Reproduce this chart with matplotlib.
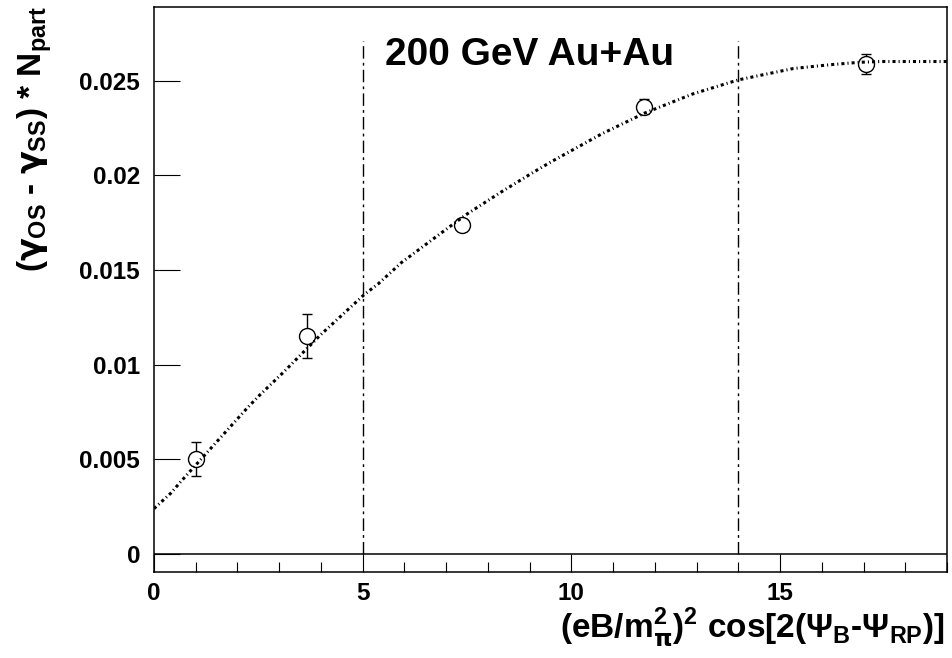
import matplotlib
matplotlib.use("Agg")
import matplotlib.pyplot as plt
from matplotlib.ticker import MultipleLocator, FixedLocator

# Measured correlator difference scaled by Npart vs. magnetic-field term
x_pts = [1.01, 3.66, 7.39, 11.75, 17.07]
y_pts = [0.00502, 0.01152, 0.01739, 0.02364, 0.02588]
y_err = [0.00088, 0.00115, 0.00030, 0.00040, 0.00052]

# Fit curve, sampled
fit_x = [0.0, 0.40, 0.66, 1.72, 2.24, 2.52, 3.10, 4.00, 5.05, 5.37, 5.93,
         6.85, 7.47, 8.30, 9.09, 9.53, 10.73, 11.75, 12.90, 14.00, 15.32,
         16.20, 16.91, 17.40, 19.0]
fit_y = [0.00240, 0.00321, 0.00387, 0.00646, 0.00773, 0.00837, 0.00960,
         0.01160, 0.01373, 0.01427, 0.01540, 0.01691, 0.01792, 0.01910,
         0.02017, 0.02074, 0.02220, 0.02329, 0.02430, 0.02505, 0.02565,
         0.02585, 0.02598, 0.02602, 0.02602]

# Centrality region boundaries
vline_x = [5.0, 14.0]
vline_top = 0.0271

y_ticks = [0.0, 0.005, 0.010, 0.015, 0.020, 0.025]
y_ticklabels = ["0", "0.005", "0.01", "0.015", "0.02", "0.025"]
x_ticks = [0, 5, 10, 15]
x_ticklabels = ["0", "5", "10", "15"]

plt.rcParams["font.family"] = ["Liberation Sans", "DejaVu Sans"]
plt.rcParams["font.weight"] = "bold"
plt.rcParams["mathtext.fontset"] = "custom"
plt.rcParams["mathtext.rm"] = "Liberation Sans:bold"
plt.rcParams["mathtext.it"] = "DejaVu Sans"
plt.rcParams["mathtext.bf"] = "Liberation Sans:bold"
plt.rcParams["mathtext.sf"] = "Liberation Sans:bold"

W, H = 953, 658
fig = plt.figure(figsize=(W / 100, H / 100), dpi=100)
ax = fig.add_axes([154 / W, (H - 572) / H, (947 - 154) / W, (572 - 7) / H])

ax.set_xlim(0, 19)
ax.set_ylim(-0.00095, 0.0289)

for s in ax.spines.values():
    s.set_linewidth(1.1)

ax.axhline(0, color="black", lw=1.1, zorder=1)
ax.vlines(vline_x, 0, vline_top, colors="black", lw=1.0,
          linestyles=[(0, (9, 3, 2, 3))], zorder=1)

ax.errorbar(x_pts, y_pts, yerr=y_err, fmt="none", ecolor="black",
            elinewidth=1.0, capsize=3.5, capthick=1.0, zorder=2)
ax.plot(x_pts, y_pts, "o", ms=11.5, mfc="white", mec="black", mew=1.0,
        zorder=3)
ax.plot(fit_x, fit_y, color="black", lw=2.2,
        dashes=(1.0, 1.0, 0.35, 1.0), zorder=4)

ax.yaxis.set_major_locator(FixedLocator(y_ticks))
ax.set_yticklabels(y_ticklabels)
ax.xaxis.set_major_locator(FixedLocator(x_ticks))
ax.set_xticklabels(x_ticklabels)
ax.xaxis.set_minor_locator(MultipleLocator(1))

ax.tick_params(axis="y", which="major", direction="in", length=18.5,
               width=0.8, pad=10, labelsize=17.5, left=True, right=False)
ax.tick_params(axis="y", which="minor", left=False, right=False)
ax.tick_params(axis="x", which="major", direction="in", length=13,
               width=0.8, pad=7, labelsize=17.5, bottom=True, top=False)
ax.tick_params(axis="x", which="minor", direction="in", length=7,
               width=0.8, bottom=True, top=False)
for lab in ax.get_xticklabels() + ax.get_yticklabels():
    lab.set_fontweight("bold")

fig.text(385 / W, 1 - 65 / H, "200 GeV Au+Au", fontsize=28,
         fontweight="bold", ha="left", va="baseline")

fig.text(945 / W, 1 - 628 / H,
         r"(eB/m$_{\pi}^{2}$)$^{2}$ cos[2($\Psi_{\rm B}$-$\Psi_{\rm RP}$)]",
         fontsize=24, fontweight="bold", ha="right", va="center")

fig.text(35 / W, 1 - 6 / H,
         r"($\gamma_{\rm OS}$ - $\gamma_{\rm SS}$) * N$_{\rm part}$",
         fontsize=24, fontweight="bold", rotation=90,
         ha="center", va="top")

fig.savefig("out.png", dpi=100)
